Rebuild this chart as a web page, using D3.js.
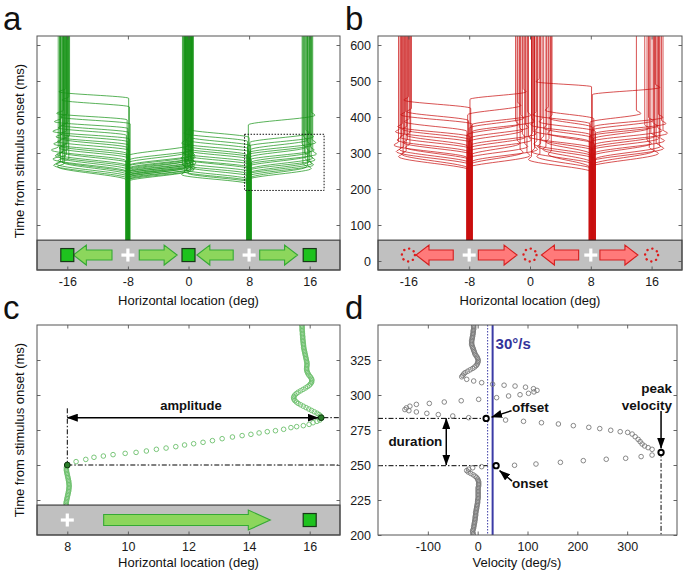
<!DOCTYPE html>
<html><head><meta charset="utf-8">
<script src="https://cdn.jsdelivr.net/npm/d3@7"></script>
<style>
body{margin:0;background:#fff}
svg{display:block}
</style>
</head><body>
<svg id="fig" width="685" height="572"></svg>
<script>
// ======================= DATA =======================
const xTicksAB = [-16, -8, 0, 8, 16];
const yTicksAB = [0, 100, 200, 300, 400, 500, 600];
const xTicksC = [8, 10, 12, 14, 16];
const xTicksD = [-100, 0, 100, 200, 300];
const yTicksCD = [200, 225, 250, 275, 300, 325];

const targetsAB = [-16, 0, 16];
const fixationsAB = [-8, 8];
const aArrows = [[-10.1, -15.2], [-6.5, -1.5], [5.9, 1.1], [9.4, 14.4]];
const bArrows = [[-10.1, -15.0], [-6.8, -1.7], [6.4, 1.5], [9.2, 14.2]];
const cArrows = [[9.2, 14.7]];
const cFix = [8];
const cTarget = [16];
const bandTopAB = 58;
const bandTopC = 221.4;
const aBox = [7.4, 17.9, 196, 352];

// traces: [fixation x, saccade onset (ms), saccade end (ms), landing x]
const gLeft = [
 [-7.9,452,470,-16.2],[-7.8,428,447,-15.8],[-8.1,392,410,-16.5],[-7.7,381,400,-16.0],
 [-8.0,368,387,-16.8],[-7.9,357,377,-15.9],[-8.2,349,370,-16.3],[-7.8,339,360,-17.0],
 [-8.0,331,353,-16.1],[-7.9,322,345,-16.6],[-8.1,315,339,-15.7],[-7.8,307,332,-16.4],
 [-8.2,299,325,-16.9],[-7.9,292,319,-16.0],[-8.0,286,314,-16.2],[-8.3,279,308,-17.2],
 [-7.8,272,302,-15.9],[-8.1,265,296,-16.5],[-7.9,260,292,-16.7],[-8.0,254,287,-16.1],
 [-8.2,249,283,-17.0],[-7.8,244,279,-16.3],[-8.1,240,275,-15.8],[-7.9,234,270,-16.6],
 [-8.0,229,266,-16.9],[-8.2,225,262,-16.4]];
const gMidL = [
 [-8.0,292,322,-0.3],[-7.9,280,309,0.2],[-8.1,272,302,-0.6],[-7.8,266,295,0.4],
 [-8.2,262,291,-0.1],[-7.9,258,288,0.5],[-8.0,255,284,-0.4],[-8.1,252,282,0.1],
 [-7.8,250,279,-0.7],[-8.0,247,277,0.3],[-8.2,245,274,-0.2],[-7.9,243,272,0.6],
 [-8.1,241,270,-0.5],[-7.8,239,268,0.0],[-8.0,237,266,0.4],[-8.2,235,264,-0.3],
 [-7.9,233,262,0.2],[-8.1,231,260,-0.8],[-8.0,229,258,0.5],[-7.8,227,256,-0.1],
 [-8.2,224,253,0.3],[-8.0,221,250,-0.4]];
const gMidR = [
 [8.0,343,366,0.4],[7.8,332,355,-0.2],[8.2,320,344,0.6],[7.9,312,336,0.1],
 [8.1,303,327,-0.5],[7.7,295,319,0.3],[8.0,289,313,-0.1],[8.3,282,306,0.5],
 [7.9,275,299,-0.3],[8.1,268,292,0.2],[7.8,261,285,-0.6],[8.0,256,281,0.4],
 [8.2,248,273,0.0],[7.9,242,267,-0.4],[8.1,235,260,0.6],[7.7,228,253,0.1],
 [8.0,222,248,-0.2],[8.2,218,244,0.3],[7.9,214,240,-0.5]];
const gRight = [
 [7.9,378,405,16.2],[8.1,329,355,15.5],[7.8,318,345,16.0],[8.2,309,336,15.2],
 [8.0,301,329,16.3],[7.7,294,322,15.7],[8.1,288,316,15.0],[7.9,280,308,16.1],
 [8.3,274,303,15.6],[8.0,268,297,16.4],[7.8,262,292,15.3],[8.2,256,286,15.9],
 [7.9,251,281,16.2],[8.1,245,275,15.4],[7.7,240,271,15.8],[8.0,236,267,16.0],
 [8.2,231,262,15.1],[7.9,226,257,15.7]];

const rLeft = [
 [-7.8,424,447,-16.0],[-8.1,390,415,-15.6],[-7.6,380,406,-16.4],[-8.3,360,387,-15.9],
 [-7.9,345,373,-16.8],[-8.0,337,366,-16.2],[-7.7,329,359,-17.1],[-8.2,319,350,-15.7],
 [-7.9,312,344,-16.5],[-8.1,303,336,-16.9],[-7.6,295,329,-16.1],[-8.3,287,322,-17.3],
 [-7.8,280,316,-15.8],[-8.0,273,310,-16.6],[-7.7,266,304,-17.0],[-8.2,258,297,-16.3],
 [-7.9,252,290,-16.7]];
const rMidL = [
 [-7.9,449,470,-0.9],[-8.2,406,432,-1.6],[-7.7,378,405,-0.3],[-8.0,369,397,-1.2],
 [-7.6,359,388,0.2],[-8.3,350,380,-1.9],[-7.9,341,371,-0.6],[-8.1,331,362,-1.4],
 [-7.7,322,353,0.4],[-8.0,313,344,-1.0],[-8.2,304,336,-0.2],[-7.8,294,327,-1.7],
 [-8.1,285,318,-0.7],[-7.6,276,310,0.6],[-8.0,267,302,-1.3],[-8.3,258,293,-0.4]];
const rMidR = [
 [8.1,484,498,1.2],[8.4,395,419,2.4],[7.9,381,406,0.8],[8.2,371,397,2.9],
 [8.6,360,387,1.6],[8.0,350,378,0.5],[8.3,341,369,2.2],[7.8,332,361,1.0],
 [8.5,325,355,2.7],[8.1,314,345,0.3],[8.4,306,338,1.8],[7.9,298,331,2.5],
 [8.2,291,325,0.9],[8.6,283,318,1.4],[8.0,275,310,2.1],[8.3,268,304,0.6],
 [7.8,261,297,2.8],[8.4,254,290,1.3],[8.1,247,282,0.2]];
const rRight = [
 [8.2,462,482,16.5],[7.9,385,410,14.0],[8.4,373,399,16.9],[8.1,363,390,15.6],
 [8.6,354,382,17.3],[7.8,346,375,16.2],[8.3,339,369,15.1],[8.0,331,362,16.8],
 [8.5,323,355,17.5],[8.2,314,347,15.9],[7.9,307,341,16.4],[8.4,299,334,17.1],
 [8.1,291,327,15.4],[8.6,283,319,16.6],[8.0,276,313,17.0],[8.3,268,306,15.7],
 [7.8,260,299,16.3]];

// panel c: eye position samples (deg); pre: t=221..249, post: t=285..350
const cPosPreStart = 221;
const cPosPre = [7.97,7.96,7.96,7.97,7.98,7.99,8.0,8.01,8.02,8.03,8.04,8.05,8.05,8.06,8.06,
 8.06,8.05,8.05,8.04,8.03,8.02,8.01,8.0,7.99,7.98,7.97,7.97,7.97,7.98];
const cSacc = [[252.4,8.29],[254,8.61],[255.5,8.88],[256.4,9.19],[257.4,9.51],[258.3,9.91],
 [259,10.27],[260,10.61],[261.2,10.94],[262.1,11.26],[263.1,11.58],[264.3,11.87],[265.2,12.17],
 [266.2,12.48],[267.4,12.79],[268.8,13.11],[270,13.45],[271,13.77],[271.9,14.06],[272.9,14.33],
 [273.8,14.6],[274.5,14.87],[275.5,15.14],[276.7,15.38],[277.4,15.57],[278.1,15.79],[279,15.98],
 [280.2,16.11],[281.2,16.24],[282.1,16.33]];
const cPosPostStart = 285;
const cPosPost = [16.36,16.31,16.24,16.15,16.06,15.97,15.88,15.79,15.7,15.62,
 15.56,15.51,15.48,15.47,15.48,15.51,15.56,15.62,15.7,15.78,
 15.86,15.93,15.99,16.03,16.06,16.07,16.07,16.05,16.02,15.98,
 15.95,15.93,15.91,15.9,15.9,15.9,15.91,15.91,15.91,15.9,
 15.89,15.88,15.87,15.86,15.85,15.84,15.83,15.82,15.81,15.8,
 15.8,15.79,15.79,15.78,15.78,15.77,15.77,15.77,15.76,15.76,
 15.76,15.75,15.75,15.75,15.75,15.74];
const cOnset = [8.0, 250];
const cOffset = [16.38, 283.8];

// panel d: eye velocity samples (deg/s); pre: t=200..248, post: t=314..350
const dVelPreStart = 200;
const dVelPre = [-9,-9,-10,-10,-9,-8,-8,-7,-7,-6,-6,-5,-5,-5,-4,-4,-4,-3,-3,-2,-2,-1,-1,0,0,
 0,1,1,1,1,1,1,1,1,1,2,2,2,2,1,0,-2,-5,-9,-14,-19,-22,-18,-10];
const dVelSacc = [[248.8,8],[249.8,74],[250.7,117],[251.9,166],[253.1,212],[254.1,258],[254.8,297],
 [256,328],[257.1,350],[261.2,350],[262.4,342],[263.6,335],[265,330],[266.7,326],[268.3,322],
 [270.2,316],[272.1,310],[273.3,301],[273.8,286],[274.8,267],[276,245],[276.9,223],[278.1,192],
 [279.3,162],[280.2,128],[281.2,92],[282.1,56],[283.8,-18],[285,-50],[286,-79],[286.9,-102],
 [287.9,-123],[288.8,-138],[289.6,-146],[290.8,-143],[292,-136],[293.3,-123],[294,-97],[295,-67],
 [295.9,-33],[296.9,2],[298.1,38],[299.3,62],[300.2,85],[301.2,102],[302.2,113],[303.3,119],
 [304.5,112],[305.6,96],[306.4,75],[307,53],[307.7,30],[308.8,8],[310,-8],[311.2,-22],[313,-32]];
const dVelPostStart = 314;
const dVelPost = [-30,-28,-25,-20,-15,-10,-6,-3,-1,0,1,1,0,-1,-3,-5,-6,-7,-8,-9,-10,-11,-12,-12,-12,
 -12,-11,-11,-10,-10,-9,-9,-9,-8,-8,-8,-8];
const dOnset = [37, 249.5];
const dOffset = [17, 283.3];
const dPeak = [368, 259];
const dThreshold = 30;
const dOffThreshold = 20;

// annotation anchors (data coordinates)
const cAmpArrow = [[8, 283.8], [16.28, 283.8]];
const cDashV = [[8, 290.5], [8, 250]];
const cDashOn = [[8, 250], [17, 250]];
const cDashOff = [[16.45, 283.8], [17, 283.8]];
const cAmpLabel = [12.08, 289.3];
const dDashOff = [[-200, 283.3], [17, 283.3]];
const dDashOn = [[-200, 249.5], [20, 249.5]];
const dDashPeak = [[368, 259], [368, 200]];
const dDurArrow = [[-63, 283.3], [-63, 250]];
const dOffArrow = [[68, 288.8], [28, 284.2]];
const dOnArrow = [[69, 238.5], [44, 246]];
const dPeakArrow = [[368, 288.5], [368, 262]];
const dLabels = [
  {text: "duration", v: -125, t: 263.6, anchor: "middle"},
  {text: "offset", v: 69, t: 287.9, anchor: "start"},
  {text: "onset", v: 69, t: 233.6, anchor: "start"},
  {text: "peak", v: 390, t: 301.2, anchor: "end"},
  {text: "velocity", v: 390, t: 289.3, anchor: "end"}
];
const dThreshLabel = {text: "30°/s", v: 36, t: 332.6};

// ======================= DRAWING =======================
const FONT = '"Liberation Sans", Arial, Helvetica, sans-serif';
const svg = d3.select("#fig");
const defs = svg.append("defs");
defs.append("marker").attr("id", "ah").attr("viewBox", "0 0 11 8")
  .attr("refX", 10.5).attr("refY", 4).attr("markerWidth", 11).attr("markerHeight", 8)
  .attr("markerUnits", "userSpaceOnUse").attr("orient", "auto-start-reverse")
  .append("path").attr("d", "M0,0 L11,4 L0,8 Z").attr("fill", "#000");

const PA = {x0: 37, x1: 340, y0: 36, y1: 270};
const PB = {x0: 378, x1: 682, y0: 36, y1: 270};
const PC = {x0: 37, x1: 340, y0: 325, y1: 535};
const PD = {x0: 378, x1: 677, y0: 325, y1: 535};

const xa = d3.scaleLinear([-20, 20], [PA.x0, PA.x1]);
const ya = d3.scaleLinear([-25, 625], [PA.y1, PA.y0]);
const xb = d3.scaleLinear([-20, 20], [PB.x0, PB.x1]);
const yb = d3.scaleLinear([-25, 625], [PB.y1, PB.y0]);
const xc = d3.scaleLinear([7, 17], [PC.x0, PC.x1]);
const yc = d3.scaleLinear([200, 350], [PC.y1, PC.y0]);
const xd = d3.scaleLinear([-200, 400], [PD.x0, PD.x1]);
const yd = d3.scaleLinear([200, 350], [PD.y1, PD.y0]);

function clip(id, P) {
  defs.append("clipPath").attr("id", id).append("rect")
    .attr("x", P.x0).attr("y", P.y0).attr("width", P.x1 - P.x0).attr("height", P.y1 - P.y0);
  return svg.append("g").attr("clip-path", `url(#${id})`);
}

function axes(P, x, y, xt, yt, showX, showY) {
  const g = svg.append("g");
  const fmt = d => String(d);
  const none = () => "";
  const style = sel => {
    sel.select(".domain").remove();
    sel.selectAll("line").attr("stroke", "#555").attr("stroke-width", 0.9);
    sel.attr("font-family", FONT).attr("font-size", 12.5);
    sel.selectAll("text").attr("fill", "#1a1a1a");
  };
  g.append("g").attr("transform", `translate(0,${P.y1})`)
    .call(d3.axisBottom(x).tickValues(xt).tickSize(-3.5).tickPadding(7).tickFormat(showX ? fmt : none)).call(style);
  g.append("g").attr("transform", `translate(0,${P.y0})`)
    .call(d3.axisTop(x).tickValues(xt).tickSize(-3.5).tickFormat(none)).call(style);
  g.append("g").attr("transform", `translate(${P.x0},0)`)
    .call(d3.axisLeft(y).tickValues(yt).tickSize(-3.5).tickPadding(7).tickFormat(showY ? fmt : none)).call(style);
  g.append("g").attr("transform", `translate(${P.x1},0)`)
    .call(d3.axisRight(y).tickValues(yt).tickSize(-3.5).tickFormat(none)).call(style);
  g.append("rect").attr("x", P.x0).attr("y", P.y0).attr("width", P.x1 - P.x0).attr("height", P.y1 - P.y0)
    .attr("fill", "none").attr("stroke", "#555").attr("stroke-width", 1);
}

function band(g, P, y, top) {
  g.append("rect").attr("x", P.x0).attr("y", y(top)).attr("width", P.x1 - P.x0).attr("height", P.y1 - y(top))
    .attr("fill", "#c0c0c0").attr("stroke", "#222").attr("stroke-width", 1);
}

function arrowShape(xt, xp, cy, bodyH, headH, headL) {
  const dir = Math.sign(xp - xt);
  const xh = xp - dir * headL;
  return [[xt, cy - bodyH], [xh, cy - bodyH], [xh, cy - headH], [xp, cy], [xh, cy + headH], [xh, cy + bodyH], [xt, cy + bodyH]];
}

function drawArrows(g, arrows, x, cy, fill, stroke, bodyH, headH, headL) {
  g.selectAll(null).data(arrows).join("polygon")
    .attr("points", d => arrowShape(x(d[0]), x(d[1]), cy, bodyH, headH, headL).map(p => p.join(",")).join(" "))
    .attr("fill", fill).attr("stroke", stroke).attr("stroke-width", 1.1);
}
function drawPlus(g, xs, x, cy) {
  xs.forEach(v => {
    g.append("line").attr("x1", x(v) - 6.5).attr("x2", x(v) + 6.5).attr("y1", cy).attr("y2", cy)
      .attr("stroke", "#fff").attr("stroke-width", 3.2);
    g.append("line").attr("x1", x(v)).attr("x2", x(v)).attr("y1", cy - 6.5).attr("y2", cy + 6.5)
      .attr("stroke", "#fff").attr("stroke-width", 3.2);
  });
}
function drawSquares(g, xs, x, cy) {
  g.selectAll(null).data(xs).join("rect")
    .attr("x", d => x(d) - 6.5).attr("y", cy - 6.5).attr("width", 13).attr("height", 13)
    .attr("fill", "#1ec21e").attr("stroke", "#183818").attr("stroke-width", 1.2);
}
function drawDotCircles(g, xs, x, cy) {
  g.selectAll(null).data(xs).join("circle")
    .attr("cx", d => x(d)).attr("cy", cy).attr("r", 6.5)
    .attr("fill", "none").attr("stroke", "#dd1c1c").attr("stroke-width", 2.4)
    .attr("stroke-linecap", "round").attr("stroke-dasharray", "0.1 5");
}

function tracePanel(id, P, x, y, segments, color, width, opacity) {
  const g = clip(id, P);
  const line = d3.line().curve(d3.curveMonotoneY).x(d => x(d[0])).y(d => y(d[1]));
  segments.forEach(([traces, ov]) => {
    g.selectAll(null).data(traces).join("path")
      .attr("d", ([f, t0, t1, l]) => {
        const dir = Math.sign(l - f);
        return line([[f, -40], [f, t0], [l + dir * ov, t1], [l, t1 + 9], [l, 660]]);
      })
      .attr("fill", "none").attr("stroke", color).attr("stroke-width", width).attr("stroke-opacity", opacity);
  });
  return g;
}

// ---------- panel a ----------
tracePanel("clipA", PA, xa, ya, [[gLeft, 0.9], [gMidL, 0.4], [gMidR, 0.4], [gRight, 0.5]], "#179417", 0.9, 0.8);
const bandA = svg.append("g");
band(bandA, PA, ya, bandTopAB);
const cyA = (ya(bandTopAB) + PA.y1) / 2;
drawArrows(bandA, aArrows, xa, cyA, "#8cd65c", "#35a935", 5, 10, 13);
drawPlus(bandA, fixationsAB, xa, cyA);
drawSquares(bandA, targetsAB, xa, cyA);
svg.append("rect").attr("x", xa(aBox[0])).attr("y", ya(aBox[3]))
  .attr("width", xa(aBox[1]) - xa(aBox[0])).attr("height", ya(aBox[2]) - ya(aBox[3]))
  .attr("fill", "none").attr("stroke", "#111").attr("stroke-width", 1).attr("stroke-dasharray", "1.5 1.5");
axes(PA, xa, ya, xTicksAB, yTicksAB.slice(1), true, false);

// ---------- panel b ----------
tracePanel("clipB", PB, xb, yb, [[rLeft, 0.6], [rMidL, 0.4], [rMidR, 0.4], [rRight, 0.6]], "#c81010", 0.85, 0.85);
const bandB = svg.append("g");
band(bandB, PB, yb, bandTopAB);
const cyB = (yb(bandTopAB) + PB.y1) / 2;
drawArrows(bandB, bArrows, xb, cyB, "#ff7a7a", "#d42020", 5, 10, 13);
drawPlus(bandB, fixationsAB, xb, cyB);
drawDotCircles(bandB, targetsAB, xb, cyB);
axes(PB, xb, yb, xTicksAB, yTicksAB, true, true);

// ---------- panel c ----------
const gC = clip("clipC", PC);
const cPts = [
  ...cPosPre.map((v, i) => [v, cPosPreStart + i]),
  ...cSacc.map(d => [d[1], d[0]]),
  ...cPosPost.map((v, i) => [v, cPosPostStart + i])
];
const dash = "5 2 1.5 2";
const segLine = (g, pts, x, y, opts) => g.append("line")
  .attr("x1", x(pts[0][0])).attr("y1", y(pts[0][1])).attr("x2", x(pts[1][0])).attr("y2", y(pts[1][1]))
  .attr("stroke", "#000").attr("stroke-width", opts.w || 1)
  .attr("stroke-dasharray", opts.dash || null)
  .attr("marker-end", opts.end ? "url(#ah)" : null)
  .attr("marker-start", opts.start ? "url(#ah)" : null);
segLine(gC, cDashV, xc, yc, {dash});
segLine(gC, cDashOn, xc, yc, {dash});
segLine(gC, cDashOff, xc, yc, {dash});
gC.selectAll(null).data(cPts).join("circle")
  .attr("cx", d => xc(d[0])).attr("cy", d => yc(d[1])).attr("r", 2.3)
  .attr("fill", "none").attr("stroke", "#6cc06c").attr("stroke-width", 0.9);
gC.selectAll(null).data([cOnset, cOffset]).join("circle")
  .attr("cx", d => xc(d[0])).attr("cy", d => yc(d[1])).attr("r", 2.9)
  .attr("fill", "#2a7d2a").attr("stroke", "#0d330d").attr("stroke-width", 1);
segLine(gC, cAmpArrow, xc, yc, {w: 1.5, start: true, end: true});
gC.append("text").attr("x", xc(cAmpLabel[0])).attr("y", yc(cAmpLabel[1]))
  .attr("text-anchor", "middle").attr("font-family", FONT).attr("font-weight", "bold")
  .attr("font-size", 13).attr("fill", "#111").text("amplitude");
const bandC = svg.append("g");
band(bandC, PC, yc, bandTopC);
const cyC = (yc(bandTopC) + PC.y1) / 2;
drawArrows(bandC, cArrows, xc, cyC, "#8cd65c", "#35a935", 5.5, 10, 22);
drawPlus(bandC, cFix, xc, cyC);
drawSquares(bandC, cTarget, xc, cyC);
axes(PC, xc, yc, xTicksC, yTicksCD.slice(1), true, false);

// ---------- panel d ----------
const gD = clip("clipD", PD);
const dPts = [
  ...dVelPre.map((v, i) => [v, dVelPreStart + i]),
  ...dVelSacc.map(d => [d[1], d[0]]),
  ...dVelPost.map((v, i) => [v, dVelPostStart + i])
];
gD.append("line").attr("x1", xd(dOffThreshold)).attr("x2", xd(dOffThreshold)).attr("y1", PD.y0).attr("y2", PD.y1)
  .attr("stroke", "#3b3ba6").attr("stroke-width", 1).attr("stroke-dasharray", "1.5 1.5");
gD.append("line").attr("x1", xd(dThreshold)).attr("x2", xd(dThreshold)).attr("y1", PD.y0).attr("y2", PD.y1)
  .attr("stroke", "#3b3ba6").attr("stroke-width", 2);
segLine(gD, dDashOff, xd, yd, {dash});
segLine(gD, dDashOn, xd, yd, {dash});
segLine(gD, dDashPeak, xd, yd, {dash});
gD.selectAll(null).data(dPts).join("circle")
  .attr("cx", d => xd(d[0])).attr("cy", d => yd(d[1])).attr("r", 2.3)
  .attr("fill", "none").attr("stroke", "#7a7a7a").attr("stroke-width", 0.9);
gD.selectAll(null).data([dOnset, dOffset, dPeak]).join("circle")
  .attr("cx", d => xd(d[0])).attr("cy", d => yd(d[1])).attr("r", 2.7)
  .attr("fill", "#fff").attr("stroke", "#000").attr("stroke-width", 1.9);
segLine(gD, dDurArrow, xd, yd, {w: 1.5, start: true, end: true});
segLine(gD, dOffArrow, xd, yd, {w: 1.5, end: true});
segLine(gD, dOnArrow, xd, yd, {w: 1.5, end: true});
segLine(gD, dPeakArrow, xd, yd, {w: 1.5, end: true});
gD.selectAll(null).data(dLabels).join("text")
  .attr("x", d => xd(d.v)).attr("y", d => yd(d.t)).attr("text-anchor", d => d.anchor)
  .attr("font-family", FONT).attr("font-weight", "bold").attr("font-size", 13.5).attr("fill", "#111")
  .text(d => d.text);
gD.append("text").attr("x", xd(dThreshLabel.v)).attr("y", yd(dThreshLabel.t))
  .attr("font-family", FONT).attr("font-weight", "bold").attr("font-size", 15).attr("fill", "#33339a")
  .text(dThreshLabel.text);
axes(PD, xd, yd, xTicksD, yTicksCD, true, true);

// ---------- titles ----------
const T = (x, y, s, size, opts = {}) => svg.append("text").attr("x", x).attr("y", y)
  .attr("font-family", FONT).attr("font-size", size).attr("fill", "#111")
  .attr("text-anchor", opts.anchor || "start").attr("transform", opts.rot ? `rotate(-90,${x},${y})` : null).text(s);
T(3, 30, "a", 33); T(345, 30, "b", 33); T(3, 319, "c", 33); T(345, 319, "d", 33);
T((PA.x0 + PA.x1) / 2, 305, "Horizontal location (deg)", 13, {anchor: "middle"});
T((PB.x0 + PB.x1) / 2, 305, "Horizontal location (deg)", 13, {anchor: "middle"});
T((PC.x0 + PC.x1) / 2, 567, "Horizontal location (deg)", 13, {anchor: "middle"});
T(517, 567, "Velocity (deg/s)", 13, {anchor: "middle"});
T(24, 151, "Time from stimulus onset (ms)", 13, {anchor: "middle", rot: true});
T(24, 430, "Time from stimulus onset (ms)", 13, {anchor: "middle", rot: true});
</script>
</body></html>
